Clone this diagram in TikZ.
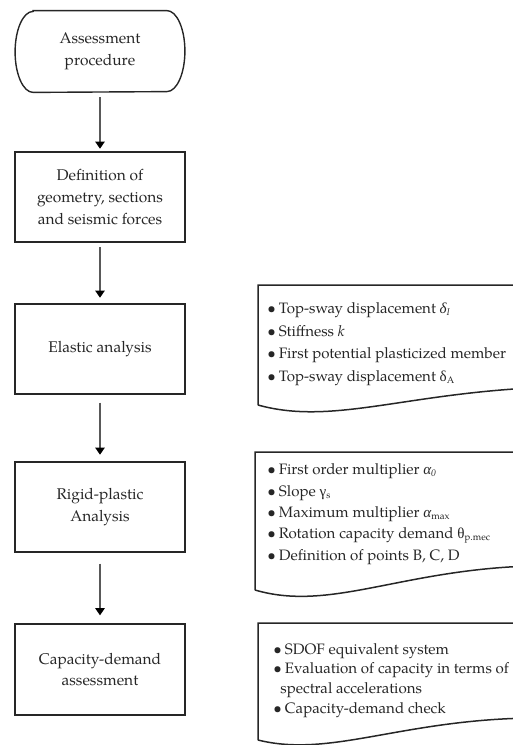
\documentclass[tikz,border=0pt]{standalone}
\usepackage{fontspec}
\setmainfont{TeX Gyre Pagella}
\newfontfamily\grk{Liberation Serif}
\usetikzlibrary{arrows.meta}
\newcommand\itembul{\strut\makebox[5.8pt][l]{\textbullet}}
\newcommand\lowsub[1]{\textsubscript{\fontsize{4.8}{5}\selectfont #1}}
\begin{document}
\begin{tikzpicture}[x=0.5pt,y=-0.5pt,
  every node/.style={font=\fontsize{7.75}{10.85}\selectfont, text=black!85},
  boxline/.style={draw=black!85, line width=0.7pt},
  stepbox/.style={boxline, minimum width=85pt, minimum height=45pt, align=center, inner sep=0pt},
  flow/.style={draw=black!65, line width=0.55pt, -{Triangle[length=3.6pt,width=4.8pt,fill=black,color=black]}},
  docframe/.style={draw=black!85, line width=0.75pt},
  listtext/.style={anchor=north west, inner sep=0pt, align=left}]

\useasboundingbox (0,0) rectangle (513,745);
\clip (0,0) rectangle (513,745);

% left column
\node[minimum width=84.5pt, minimum height=40.5pt, align=center, inner sep=0pt] (start) at (100,51.5) {Assessment\\procedure};
\draw[boxline] ([xshift=9pt]start.north west) -- ([xshift=-9pt]start.north east)
  arc[start angle=90, end angle=-90, x radius=9pt, y radius=20.25pt]
  -- ([xshift=9pt]start.south west)
  arc[start angle=270, end angle=90, x radius=9pt, y radius=20.25pt] -- cycle;

\node[stepbox] (def) at (100,197) {Definition of\\geometry, sections\\and seismic forces};
\node[stepbox] (elastic) at (100,349) {Elastic analysis};
\node[stepbox] (rigid) at (100,507) {Rigid-plastic\\Analysis};
\node[stepbox, minimum height=45.5pt] (cap) at (100,669.5) {Capacity-demand\\assessment};

\draw[flow, shorten <=2.5pt, shorten >=1.3pt] (start.south) -- (def.north);
\draw[flow, shorten <=2.2pt, shorten >=2.8pt] (def.south) -- (elastic.north);
\draw[flow, shorten <=4pt, shorten >=3.3pt] (elastic.south) -- (rigid.north);
\draw[flow, shorten <=5.5pt, shorten >=4pt] (rigid.south) -- (cap.north);

% right column: document shapes
\draw[docframe] (258,405) -- (258,285) -- (530,285) -- (530,388)
  .. controls (400,395) and (330,425) .. (258,405);
\node[listtext, font=\fontsize{7.55}{11.25}\selectfont] (lista) at (267,297.5) {%
\itembul Top-sway displacement {\grk\itshape δ}\lowsub{\itshape I}\\
\itembul Stiffness \textit{k}\\
\itembul First potential plasticized member\\
\itembul Top-sway displacement {\grk δ}\lowsub{A}};

\draw[docframe] (255,590) -- (255,452) -- (530,452) -- (530,566)
  .. controls (400,570) and (330,612) .. (255,590);
\node[listtext, font=\fontsize{7.55}{10.65}\selectfont] (listb) at (267,459.5) {%
\itembul First order multiplier {\grk\itshape α}\lowsub{\itshape 0}\\
\itembul Slope {\grk γ}\lowsub{s}\\
\itembul Maximum multiplier {\grk\itshape α}\lowsub{max}\\
\itembul Rotation capacity demand {\grk θ}\lowsub{p.mec}\\
\itembul Definition of points B, C, D};

\draw[docframe] (258,740) -- (258,623) -- (530,623) -- (530,718)
  .. controls (400,720) and (330,758) .. (258,740);
\node[listtext, font=\fontsize{7.55}{9.85}\selectfont] (listc) at (273,640) {%
\itembul SDOF equivalent system\\
\itembul Evaluation of capacity in terms of\\
\strut\hspace*{3.5pt}spectral accelerations\\
\itembul Capacity-demand check};
\end{tikzpicture}
\end{document}
